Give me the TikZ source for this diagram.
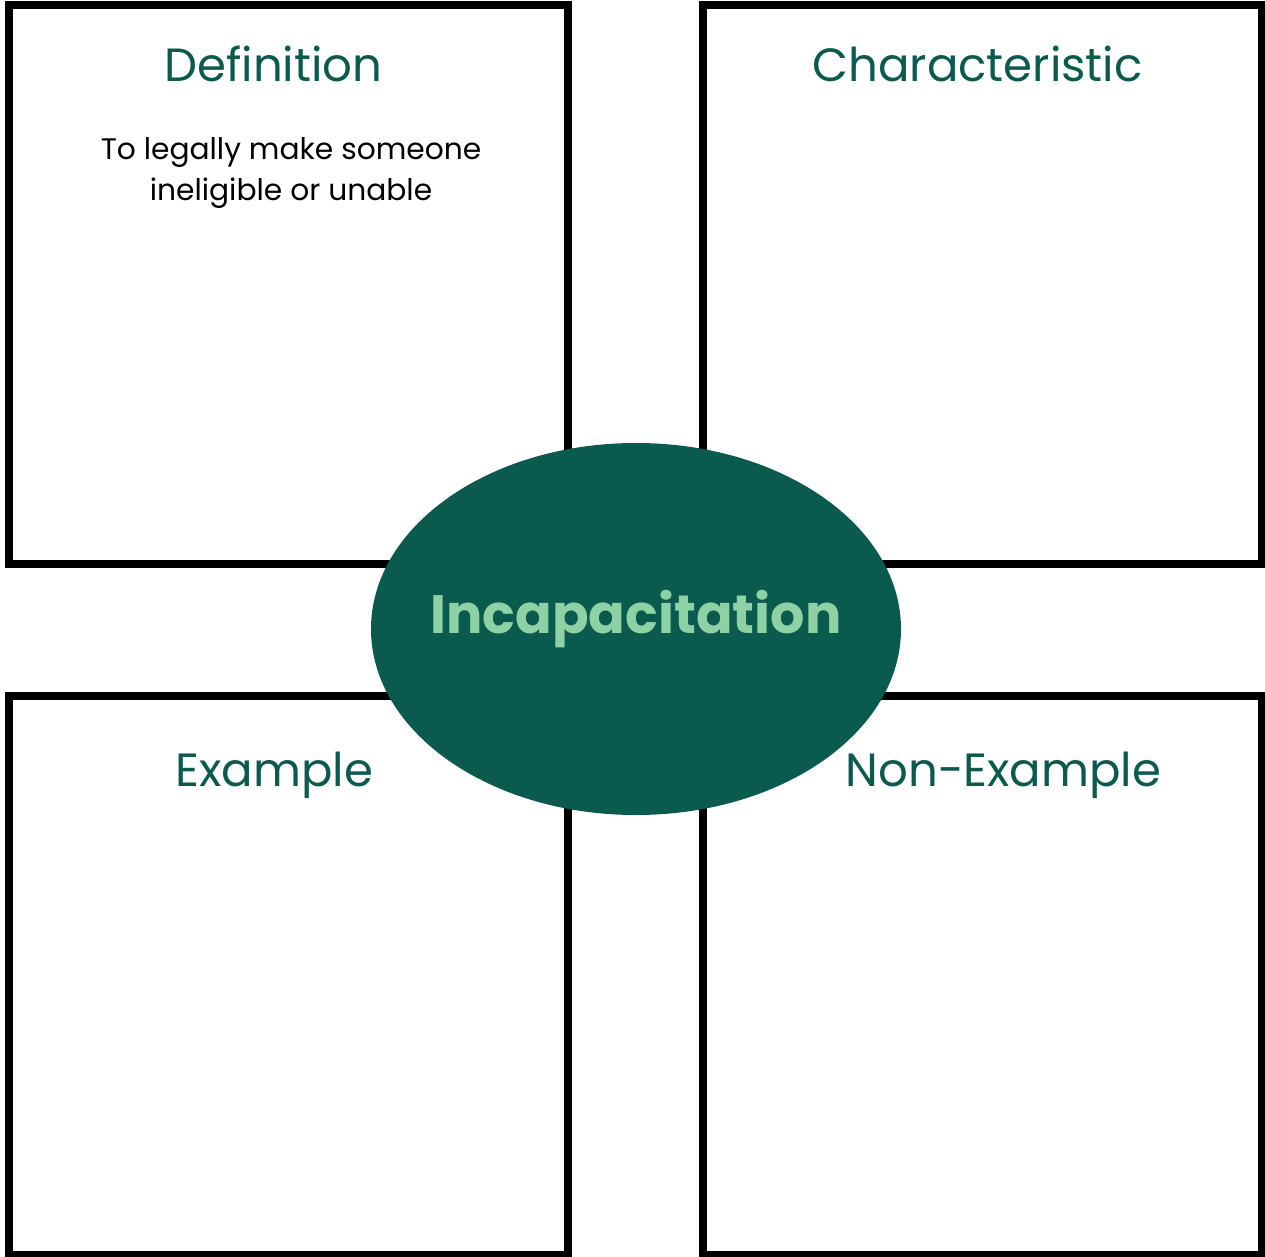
\documentclass[tikz,border=0pt]{standalone}
\usepackage{fontspec}
\setmainfont{Poppins}
\usepackage{tikz}
\usetikzlibrary{shapes.geometric}

\definecolor{deepgreen}{RGB}{11,90,78}
\definecolor{mintgreen}{RGB}{142,209,165}

\begin{document}
\begin{tikzpicture}[x=0.5pt, y=-0.5pt,
  every panel/.style={draw=black, line width=4pt, fill=white, rectangle,
    minimum width=279.5pt, minimum height=279.5pt, inner sep=0pt},
  every heading/.style={text=deepgreen, anchor=base, inner sep=0pt,
    font=\fontsize{23.3}{28}\selectfont},
  every line/.style={text=black, anchor=base, inner sep=0pt,
    font=\fontsize{14.85}{18}\selectfont}]

\useasboundingbox (0,0) rectangle (1265,1257);

% the four panels
\foreach \m/\x/\y in {def/288/284.5, char/982.5/284.5, ex/288/975, non/982.5/975}
  \node [every panel/.try] (panel-\m) at (\x,\y) {};

% panel headings
\foreach \m/\l/\x/\y in {def/Definition/273.5/82, char/Characteristic/977.5/82,
    ex/Example/274.5/786, non/Non-Example/1003.5/786}
  \node [every heading/.try] (head-\m) at (\x,\y) {\l};

% definition text
\foreach \l [count=\i] in {To legally make someone, ineligible or unable}
  \node [every line/.try] (def-line-\i) at (291,119+41*\i) {\l};

% the term in the middle
\node [ellipse, fill=deepgreen, minimum width=265pt, minimum height=186pt,
  inner sep=0pt] (term-shape) at (636,629) {};
\node [anchor=base, inner sep=0pt, text=mintgreen,
  font=\fontsize{27}{32}\selectfont\bfseries] (term) at (636,633) {Incapacitation};

\end{tikzpicture}
\end{document}
